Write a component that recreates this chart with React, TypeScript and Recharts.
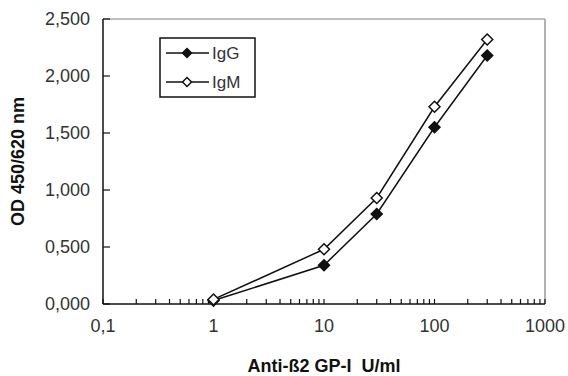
import React from 'react';
import { LineChart, Line, XAxis, YAxis, Legend, ReferenceLine } from 'recharts';

const concentrations = [1, 10, 30, 100, 300];
const igGValues = [0.03, 0.34, 0.79, 1.55, 2.18];
const igMValues = [0.04, 0.48, 0.93, 1.73, 2.32];

const xLabelTicks = [0.1, 1, 10, 100, 1000];
const xAllTicks = [
  0.1, 0.2, 0.3, 0.4, 0.5, 0.6, 0.7, 0.8, 0.9,
  1, 2, 3, 4, 5, 6, 7, 8, 9,
  10, 20, 30, 40, 50, 60, 70, 80, 90,
  100, 200, 300, 400, 500, 600, 700, 800, 900,
  1000,
];
const yTicks = [0, 0.5, 1, 1.5, 2, 2.5];

const seriesNames = ['IgG', 'IgM'];

const data = concentrations.map((c, i) => ({ x: c, IgG: igGValues[i], IgM: igMValues[i] }));

const FONT = '"Liberation Sans", Arial, sans-serif';

const Diamond = (filled: boolean) => (props: any) => {
  const { cx, cy } = props;
  if (cx == null || cy == null) return null;
  const r = 5.5;
  return (
    <polygon
      points={`${cx},${cy - r} ${cx + r},${cy} ${cx},${cy + r} ${cx - r},${cy}`}
      fill={filled ? '#111' : '#fff'}
      stroke="#111"
      strokeWidth={1.5}
    />
  );
};

const LegendContent = () => (
  <svg width={98} height={62} style={{ display: 'block' }}>
    <rect x={1} y={1} width={95} height={59} fill="#fff" stroke="#111" strokeWidth={1.5} />
    {seriesNames.map((name, i) => {
      const y = 16 + i * 29;
      const filled = i === 0;
      return (
        <g key={name}>
          <line x1={7} x2={50} y1={y} y2={y} stroke="#111" strokeWidth={1.5} />
          <polygon
            points={`28,${y - 4.5} 32.5,${y} 28,${y + 4.5} 23.5,${y}`}
            fill={filled ? '#111' : '#fff'}
            stroke="#111"
            strokeWidth={1.5}
          />
          <text x={53} y={y + 6} fontSize={17} fontFamily={FONT} fill="#333">
            {name}
          </text>
        </g>
      );
    })}
  </svg>
);

const YTitle = (props: any) => {
  const vb = props.viewBox || {};
  const cx = (vb.x ?? 0) + 18;
  const cy = (vb.y ?? 0) + (vb.height ?? 0) / 2;
  return (
    <text
      x={cx}
      y={cy}
      transform={`rotate(-90, ${cx}, ${cy})`}
      textAnchor="middle"
      dominantBaseline="central"
      fontSize={18}
      fontWeight="bold"
      fontFamily={FONT}
      fill="#111"
    >
      OD 450/620 nm
    </text>
  );
};

const XTitle = (props: any) => {
  const vb = props.viewBox || {};
  const cx = (vb.x ?? 0) + (vb.width ?? 0) / 2;
  return (
    <text
      x={cx}
      y={372}
      textAnchor="middle"
      fontSize={18}
      fontWeight="bold"
      fontFamily={FONT}
      fill="#111"
    >
      {'Anti-ß2 GP-I\u00a0 U/ml'}
    </text>
  );
};

export default function App() {
  return (
    <div style={{ position: 'absolute', left: 0, top: 0, background: '#fff' }}>
      <LineChart
        width={568}
        height={376}
        data={data}
        margin={{ top: 19, right: 23, bottom: 0, left: 0 }}
      >
        <ReferenceLine y={2.5} stroke="#aaa" strokeWidth={1.5} />
        <ReferenceLine x={1000} stroke="#999" strokeWidth={1.5} />
        <XAxis
          dataKey="x"
          type="number"
          scale="log"
          domain={[0.1, 1000]}
          allowDataOverflow
          ticks={xAllTicks}
          interval={0}
          height={72}
          tickSize={-5}
          tickMargin={20}
          axisLine={{ stroke: '#111', strokeWidth: 1.5 }}
          tickLine={{ stroke: '#111', strokeWidth: 1.2 }}
          tick={{ fontSize: 18, fontFamily: FONT, fill: '#333' }}
          tickFormatter={(v: number) =>
            xLabelTicks.includes(v) ? (v === 0.1 ? '0,1' : String(v)) : ''
          }
          label={<XTitle />}
        />
        <YAxis
          type="number"
          domain={[0, 2.5]}
          ticks={yTicks}
          interval={0}
          width={103}
          tickSize={-7}
          tickMargin={20}
          axisLine={{ stroke: '#111', strokeWidth: 1.5 }}
          tickLine={{ stroke: '#111', strokeWidth: 1.2 }}
          tick={{ fontSize: 18, fontFamily: FONT, fill: '#333' }}
          tickFormatter={(v: number) => v.toFixed(3).replace('.', ',')}
          label={<YTitle />}
        />
        <Legend
          layout="horizontal"
          verticalAlign="middle"
          align="center"
          wrapperStyle={{ left: 159, top: 37, width: 98, height: 62 }}
          content={<LegendContent />}
        />
        <Line
          dataKey="IgG"
          stroke="#111"
          strokeWidth={1.5}
          isAnimationActive={false}
          dot={Diamond(true)}
          activeDot={false}
        />
        <Line
          dataKey="IgM"
          stroke="#111"
          strokeWidth={1.5}
          isAnimationActive={false}
          dot={Diamond(false)}
          activeDot={false}
        />
      </LineChart>
    </div>
  );
}
